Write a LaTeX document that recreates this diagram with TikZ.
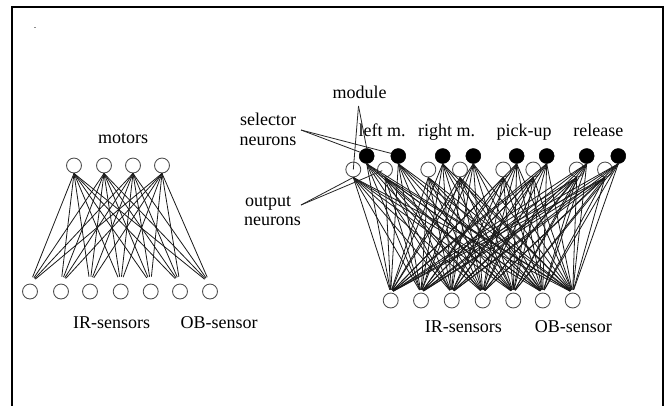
\documentclass[tikz,border=0pt]{standalone}
\usepackage{fontspec}
\setmainfont{Liberation Serif}
\begin{document}
\begin{tikzpicture}[x=0.75pt,y=-0.75pt,
  neuron/.style={circle,draw=black!70,line width=0.65pt,minimum size=11.2pt,inner sep=0pt,fill=white},
  selneuron/.style={circle,draw=black,fill=black,minimum size=11.2pt,inner sep=0pt},
  conn/.style={line width=0.6pt,black!90},
  lbl/.style={font=\fontsize{13.5}{15}\selectfont,anchor=base,inner sep=0pt},
  pointer/.style={line width=0.6pt,black!85}]
\useasboundingbox (0,0) rectangle (664,405);
\fill[white] (0,0) rectangle (664,405);
\draw[line width=1.8pt] (12,415) -- (12,7) -- (663,7) -- (663,415);
\fill[black!45] (34,26.5) rectangle (35.5,27.8);

% left network
\foreach \x [count=\i] in {74,104,133,162} \node[neuron] (lt\i) at (\x,165.5) {};
\foreach \x [count=\i] in {30,61,90,120.7,150.7,180,210} \node[neuron] (lb\i) at (\x,291.5) {};
\foreach \i in {1,...,4}
  \foreach \j in {1,...,7}
    \draw[conn,shorten >=5.2pt] (lt\i.south) -- (lb\j.north);

\node[lbl] (motors) at (123,143) {motors};
\node[lbl] (lir) at (111.7,328.3) {IR-sensors};
\node[lbl] (lob) at (219.2,328.3) {OB-sensor};

% right network
\foreach \x [count=\i] in {366.7,398.3,442.7,473.3,516.7,546.7,586.7,618.3} \node[selneuron] (rb\i) at (\x,156) {};
\foreach \x [count=\i] in {353.3,385,428.3,460,503.3,533.3,576.7,605} \node[neuron] (ro\i) at (\x,169.5) {};
\foreach \x [count=\i] in {390.7,421,451.7,482.7,513.3,542.7,572.7} \node[neuron] (ri\i) at (\x,300.5) {};
\foreach \i in {1,...,8}
  \foreach \j in {1,...,7} {
    \draw[conn,shorten >=2.2pt] (ro\i.south) -- (ri\j.north);
    \draw[conn,shorten >=2.2pt] (rb\i.south) -- (ri\j.north);
  }

\node[lbl] (module) at (359.5,98) {module};
\node[lbl] (leftm) at (382,136) {left m.};
\node[lbl] (rightm) at (446.7,136) {right m.};
\node[lbl] (pickup) at (524,136) {pick-up};
\node[lbl] (release) at (598.3,136) {release};
\node[lbl] (rir) at (463.3,332.7) {IR-sensors};
\node[lbl] (rob) at (573.3,332.7) {OB-sensor};

\node[lbl] (sel1) at (268,125) {selector};
\node[lbl] (sel2) at (268,145) {neurons};
\node[lbl] (out1) at (268,206) {output};
\node[lbl] (out2) at (272.5,225) {neurons};

\coordinate (selpt) at (301,130);
\coordinate (modpt) at (358.5,106);
\coordinate (outpt) at (301,205);
\draw[pointer] (selpt) -- (rb1.150);
\draw[pointer] (selpt) -- (rb2.160);
\draw[pointer] (modpt) -- (rb1.north);
\draw[pointer] (modpt) -- (ro1.center);
\draw[pointer] (outpt) -- (ro1.south);
\draw[pointer,shorten >=2.2pt] (outpt) -- (ro2.center);
\end{tikzpicture}
\end{document}
